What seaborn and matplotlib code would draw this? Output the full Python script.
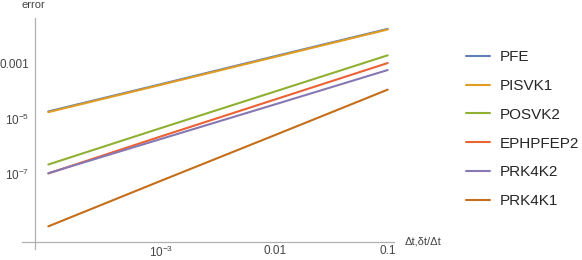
import pandas as pd
import seaborn as sns
import matplotlib.pyplot as plt

# step sizes where the errors were sampled
dt = [1e-4, 1e-3, 1e-2, 1e-1]

# errors per method
err_pfe = [1.8e-5, 1.75e-4, 1.75e-3, 1.7e-2]
err_pisvk1 = [1.7e-5, 1.66e-4, 1.65e-3, 1.62e-2]
err_posvk2 = [2.2e-7, 4.6e-6, 9.3e-5, 1.9e-3]
err_ephpfep2 = [1.05e-7, 2.3e-6, 4.8e-5, 1.0e-3]
err_prk4k2 = [1.07e-7, 1.86e-6, 3.2e-5, 5.6e-4]
err_prk4k1 = [1.3e-9, 5.8e-8, 2.5e-6, 1.1e-4]

methods = ["PFE", "PISVK1", "POSVK2", "EPHPFEP2", "PRK4K2", "PRK4K1"]
colors = ["#5E81B5", "#E19C24", "#8FB032", "#EB6235", "#8778B3", "#C56E1A"]

x_ticks = [1e-3, 1e-2, 1e-1]
x_labels = ["$\\mathregular{10^{-3}}$", "0.01", "0.1"]
y_ticks = [1e-7, 1e-5, 1e-3]
y_labels = ["$\\mathregular{10^{-7}}$", "$\\mathregular{10^{-5}}$", "0.001"]

all_err = [err_pfe, err_pisvk1, err_posvk2, err_ephpfep2, err_prk4k2, err_prk4k1]
rows = []
for name, errs in zip(methods, all_err):
    for x, e in zip(dt, errs):
        rows.append({"dt": x, "error": e, "method": name})
df = pd.DataFrame(rows)

sns.set_style("white")
plt.rcParams["font.family"] = ["Liberation Sans", "DejaVu Sans"]
plt.rcParams["mathtext.fontset"] = "custom"
plt.rcParams["mathtext.rm"] = "Liberation Sans"
plt.rcParams["mathtext.it"] = "Liberation Sans:italic"

fig = plt.figure(figsize=(5.82, 2.6), dpi=100)
ax = fig.add_axes([0.0383, 0.0404, 0.6395, 0.890])

sns.lineplot(data=df, x="dt", y="error", hue="method", hue_order=methods,
             palette=colors, linewidth=1.5, ax=ax)
ax.set_xscale("log")
ax.set_yscale("log")

ax.set_xlim(10 ** -4.23, 10 ** -0.94)
ax.set_ylim(10 ** -9.72, 10 ** -1.38)

# mathematica-like crossing axes
axis_grey = "#b0b0b0"
ax.spines["left"].set_position(("data", 10 ** -4.12))
ax.spines["bottom"].set_position(("data", 10 ** -9.44))
for side in ["top", "right"]:
    ax.spines[side].set_visible(False)
for side in ["left", "bottom"]:
    ax.spines[side].set_color(axis_grey)
    ax.spines[side].set_linewidth(0.9)

ax.set_xticks(x_ticks, labels=x_labels)
ax.set_xticks([1e-4], minor=True)
ax.set_yticks(y_ticks, labels=y_labels)
ax.set_yticks([1e-9, 1e-8, 1e-6, 1e-4, 1e-2], minor=True)
ax.tick_params(which="both", direction="in", color=axis_grey, width=0.8,
               labelsize=8.5, labelcolor="#444444")
ax.tick_params(which="major", length=4, pad=4)
ax.tick_params(axis="x", which="major", pad=2)
ax.tick_params(which="minor", length=2.5, labelleft=False, labelbottom=False)
ax.set_xlabel("")
ax.set_ylabel("")

fig.text(22 / 582, 1 - 7.5 / 260, "error", fontsize=8, color="#444444",
         va="baseline", ha="left")
fig.text(405 / 582, 1 - 241.5 / 260, "Δt,δt/Δt", fontsize=8, color="#444444",
         va="center", ha="left")

ax.legend(loc="upper left", bbox_to_anchor=(460 / 582, 1 - 44 / 260),
          bbox_transform=fig.transFigure, frameon=False, borderaxespad=0,
          fontsize=11, handlelength=1.57, handletextpad=0.6, labelspacing=0.97)

plt.savefig("out.png", dpi=100)
plt.close()
